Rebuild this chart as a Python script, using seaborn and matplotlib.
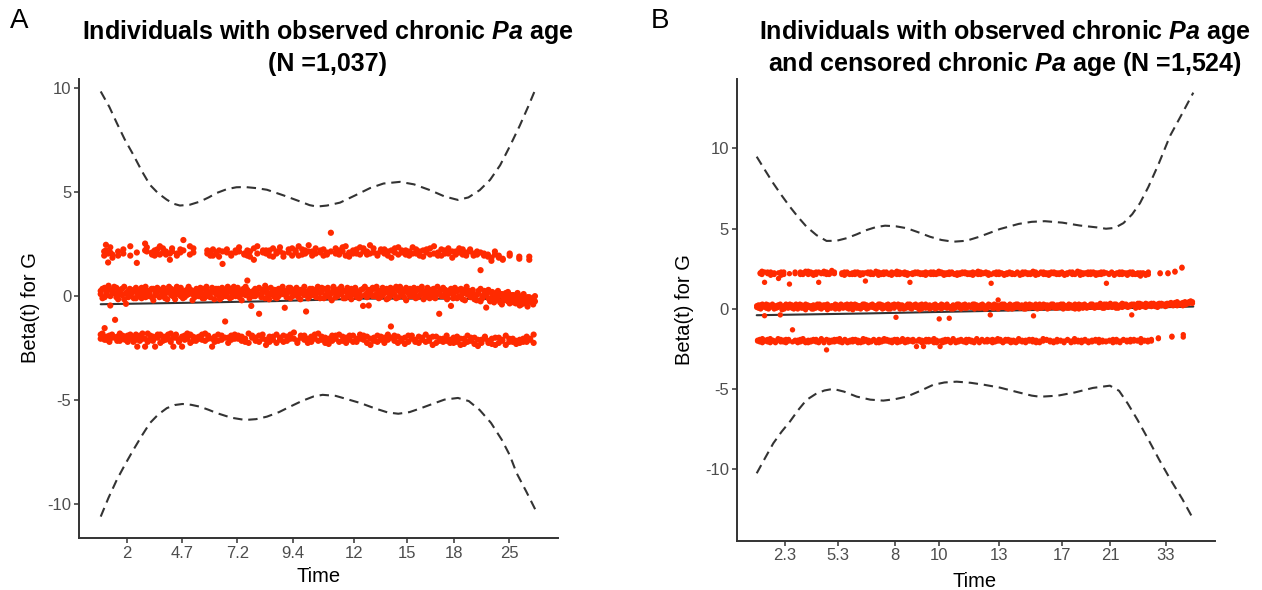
import matplotlib
matplotlib.use("Agg")
import matplotlib.pyplot as plt
import numpy as np
import pandas as pd
import seaborn as sns

sns.set_theme(style="ticks")
plt.rcParams["font.family"] = ["Liberation Sans", "DejaVu Sans"]
plt.rcParams["mathtext.fontset"] = "custom"
plt.rcParams["mathtext.it"] = "Liberation Sans:italic:bold"
plt.rcParams["mathtext.rm"] = "Liberation Sans:bold"
plt.rcParams["mathtext.bf"] = "Liberation Sans:bold"

# ---------------- data (x = transformed time, 0..1000) ----------------
A_TICK_POS = [60.5, 187.6, 314, 441.4, 583, 704, 813, 938.6]
A_TICK_LAB = ["2", "4.7", "7.2", "9.4", "12", "15", "18", "25"]
B_TICK_POS = [64.8, 186.9, 316.8, 418.2, 555, 700, 809.2, 937.5]
B_TICK_LAB = ["2.3", "5.3", "8", "10", "13", "17", "21", "33"]

# Panel A confidence band and fitted beta(t)
A_UP_X = [0, 20, 37, 55, 75, 95, 113, 132, 152, 167, 182, 205, 228, 248, 266, 290, 312, 332, 357,
          382, 420, 459, 480, 497, 520, 550, 585, 619, 650, 688, 720, 757, 790, 821, 845, 871, 895,
          918, 940, 963, 982, 1000]
A_UP_Y = [9.85, 9.1, 8.33, 7.55, 6.8, 6.0, 5.36, 4.95, 4.64, 4.45, 4.36, 4.4, 4.55, 4.75, 4.96, 5.15,
          5.24, 5.25, 5.2, 5.12, 4.85, 4.55, 4.38, 4.31, 4.36, 4.5, 4.85, 5.2, 5.42, 5.5, 5.38, 5.1,
          4.8, 4.63, 4.75, 5.1, 5.6, 6.3, 7.2, 8.2, 9.1, 10.0]
A_LO_X = [0, 18, 37, 56, 75, 95, 113, 132, 152, 170, 188, 208, 228, 248, 267, 300, 332, 357, 382,
          410, 435, 462, 489, 510, 540, 570, 596, 630, 660, 684, 710, 735, 757, 790, 821, 846, 871,
          897, 922, 940, 956, 978, 1000]
A_LO_Y = [-10.61, -9.7, -8.84, -8.1, -7.4, -6.7, -6.11, -5.7, -5.39, -5.24, -5.19, -5.23, -5.32,
          -5.47, -5.63, -5.85, -5.96, -5.92, -5.8, -5.58, -5.32, -5.05, -4.83, -4.75, -4.8, -4.98,
          -5.14, -5.4, -5.6, -5.66, -5.58, -5.4, -5.23, -4.98, -4.9, -5.05, -5.48, -6.1, -6.92,
          -7.65, -8.52, -9.4, -10.32]
A_FIT_X = [0, 200, 400, 600, 800, 1000]
A_FIT_Y = [-0.39, -0.32, -0.24, -0.12, -0.12, -0.16]

B_UP_X = [0, 19, 38, 57, 76, 95, 114, 137, 160, 183, 206, 229, 252, 273, 294, 319, 344, 370, 397,
          423, 450, 480, 510, 557, 600, 630, 660, 700, 740, 780, 800, 820, 840, 860, 878, 897, 920,
          947, 975, 1000]
B_UP_Y = [9.49, 8.65, 7.83, 7.08, 6.37, 5.72, 5.13, 4.6, 4.24, 4.25, 4.41, 4.65, 4.92, 5.1, 5.19,
          5.15, 5.03, 4.78, 4.5, 4.3, 4.19, 4.25, 4.5, 4.98, 5.3, 5.43, 5.47, 5.38, 5.2, 5.08, 5.0,
          5.05, 5.35, 5.9, 6.6, 7.6, 9.0, 10.8, 12.2, 13.48]
B_LO_X = [0, 19, 38, 57, 76, 95, 114, 135, 155, 175, 200, 229, 260, 290, 317, 344, 375, 404, 430,
          458, 490, 520, 557, 600, 630, 649, 690, 729, 770, 809, 830, 850, 872, 897, 922, 947, 975,
          1000]
B_LO_Y = [-10.24, -9.3, -8.37, -7.65, -7.02, -6.3, -5.67, -5.3, -5.08, -4.98, -5.15, -5.46, -5.65,
          -5.71, -5.62, -5.46, -5.1, -4.73, -4.58, -4.53, -4.6, -4.72, -4.9, -5.2, -5.4, -5.47,
          -5.4, -5.2, -4.92, -4.78, -5.1, -5.9, -6.9, -8.13, -9.4, -10.6, -11.85, -13.1]
B_FIT_X = [0, 250, 500, 750, 1000]
B_FIT_Y = [-0.39, -0.28, -0.14, 0.0, 0.15]

# Panel A residuals
A_TOP_X = [8, 12, 17, 22, 27, 40, 52, 68, 83, 102,
           106, 118, 124, 130, 136, 143, 150, 159, 164, 175,
           183, 190, 205, 213, 245, 252, 258, 266, 272, 280,
           290, 300, 310, 318, 330, 337, 343, 352, 360, 373,
           380, 388, 396, 404, 412, 420, 432, 440, 448, 455,
           463, 470, 478, 486, 494, 505, 512, 520, 529, 540,
           548, 556, 563, 571, 580, 588, 596, 604, 612, 619,
           627, 636, 644, 652, 660, 668, 676, 684, 692, 701,
           709, 717, 725, 733, 741, 749, 757, 766, 775, 783,
           791, 799, 808, 816, 824, 832, 840, 849, 857, 865,
           873, 881, 890, 898, 906, 915, 924, 940, 962, 985]
A_TOP_Y = [2.15, 2.47, 1.62, 2.10, 2.00, 1.95, 2.05, 2.40, 1.60, 2.53,
           2.15, 2.00, 2.20, 2.05, 2.40, 2.10, 2.00, 1.75, 2.15, 2.05,
           2.25, 2.70, 2.40, 2.10, 2.05, 2.15, 1.95, 2.10, 2.20, 1.55,
           2.10, 2.05, 2.20, 2.15, 2.00, 1.95, 2.15, 1.75, 2.40, 2.10,
           2.05, 2.20, 1.90, 2.15, 2.35, 2.05, 2.25, 1.95, 2.10, 2.40,
           2.00, 2.20, 2.45, 2.15, 2.05, 2.20, 1.95, 2.10, 3.05, 2.30,
           2.00, 2.15, 2.40, 1.90, 2.20, 2.05, 2.35, 2.15, 2.00, 2.45,
           2.10, 1.95, 2.25, 2.05, 2.15, 1.85, 2.30, 2.00, 2.10, 2.20,
           1.95, 2.35, 2.05, 2.15, 1.90, 2.25, 2.00, 2.40, 2.10, 1.95,
           2.20, 2.05, 1.85, 2.15, 2.30, 2.00, 2.10, 2.25, 1.95, 2.15,
           1.25, 2.05, 1.90, 1.70, 2.00, 1.85, 1.75, 1.95, 1.80, 1.90]
A_TOP_Y2 = [1.95, 2.20, 2.05, 2.35, 1.85, 2.15, 2.25, 1.95, 2.10, 2.20,
            2.35, 2.10, 1.95, 2.25, 2.00, 2.30, 2.15, 2.05, 2.30, 1.95,
            2.10, 2.20, 2.00, 2.30, 2.20, 1.95, 2.25, 2.05, 1.90, 2.15,
            2.25, 1.95, 2.10, 2.35, 2.05, 2.20, 1.90, 2.30, 2.05, 2.20,
            2.20, 1.95, 2.30, 2.05, 2.15, 1.90, 2.10, 2.30, 2.20, 1.95,
            2.25, 2.05, 2.15, 1.95, 2.30, 2.10, 2.25, 2.00, 2.15, 2.05,
            2.20, 2.35, 1.95, 2.10, 2.05, 2.25, 2.00, 2.30, 2.15, 2.05,
            2.30, 2.05, 2.15, 2.25, 1.95, 2.20, 2.10, 2.35, 2.20, 2.00,
            2.15, 2.05, 2.25, 1.95, 2.20, 2.10, 2.30, 2.05, 1.95, 2.25,
            2.05, 2.30, 2.15, 2.00, 2.10, 2.25, 1.95, 2.15, 2.05, 2.00,
            2.10, 1.95, 2.00, 1.85, 2.15, 1.95, 1.80, 2.05, 1.90, 1.75]

MID_X = [0, 4, 9, 13, 18, 22, 27, 31, 36, 40,
         45, 49, 54, 58, 63, 67, 72, 76, 81, 85,
         90, 94, 99, 103, 108, 112, 117, 121, 126, 130,
         135, 139, 144, 148, 153, 157, 162, 166, 171, 175,
         180, 184, 189, 193, 198, 202, 207, 211, 216, 220,
         225, 229, 234, 238, 243, 247, 252, 256, 261, 265,
         270, 274, 279, 283, 288, 292, 297, 301, 306, 310,
         315, 319, 324, 328, 333, 337, 342, 346, 351, 355,
         360, 364, 369, 373, 378, 382, 387, 391, 396, 400,
         405, 409, 414, 418, 423, 427, 432, 436, 441, 445,
         450, 454, 459, 463, 468, 472, 477, 481, 486, 490,
         495, 499, 504, 508, 513, 517, 522, 526, 531, 535,
         540, 544, 549, 553, 558, 562, 567, 571, 576, 580,
         585, 589, 594, 598, 603, 607, 612, 616, 621, 625,
         630, 634, 639, 643, 648, 652, 657, 661, 666, 670,
         675, 679, 684, 688, 693, 697, 702, 706, 711, 715,
         720, 724, 729, 733, 738, 742, 747, 751, 756, 760,
         765, 769, 774, 778, 783, 787, 792, 796, 801, 805,
         810, 814, 819, 823, 828, 832, 837, 841, 846, 850,
         855, 859, 864, 868, 873, 877, 882, 886, 891, 895,
         900, 904, 909, 913, 918, 922, 927, 931, 936, 940,
         945, 949, 954, 958, 963, 967, 972, 976, 981, 985,
         990, 994, 998]
A_MID_Y = [0.25, -0.10, 0.40, 0.05, 0.30, -0.45, 0.15, 0.45, -0.05, 0.20,
           0.10, 0.35, -0.15, -0.37, 0.25, 0.00, 0.15, 0.30, -0.10, 0.20,
           0.05, 0.40, 0.15, -0.05, 0.25, 0.10, 0.35, -0.20, 0.05, 0.20,
           0.30, 0.00, 0.15, -0.10, 0.25, 0.45, 0.05, 0.20, -0.15, 0.10,
           0.35, 0.00, 0.20, -0.05, 0.30, 0.10, 0.15, -0.20, 0.25, 0.05,
           0.20, 0.40, -0.10, 0.10, 0.30, 0.00, 0.15, 0.25, -0.15, 0.35,
           0.05, 0.20, -0.05, 0.30, 0.10, 0.45, -0.10, 0.15, 0.25, 0.00,
           0.20, 0.10, -0.20, 0.35, 0.05, 0.75, 0.15, -0.47, 0.25, 0.00,
           0.30, -0.85, 0.10, 0.20, -0.10, 0.35, 0.05, 0.15, 0.25, -0.05,
           0.20, 0.00, 0.30, 0.10, -0.56, 0.15, 0.40, -0.10, 0.20, 0.05,
           0.25, 0.10, -0.15, 0.30, 0.05, -0.74, 0.20, 0.00, 0.35, 0.10,
           -0.05, 0.20, 0.15, 0.40, -0.10, 0.05, 0.25, 0.10, -0.20, 0.30,
           0.15, 0.00, 0.35, 0.10, -0.10, 0.25, 0.05, 0.20, -0.15, 0.30,
           0.10, -0.05, 0.20, 0.30, -0.47, 0.05, 0.15, -0.45, 0.25, 0.00,
           0.35, 0.10, -0.10, 0.20, 0.05, 0.30, -0.15, 0.15, 0.00, 0.25,
           0.10, 0.45, -0.05, 0.20, 0.05, 0.30, -0.20, 0.15, 0.00, 0.25,
           0.10, -0.10, 0.35, 0.05, 0.20, -0.15, 0.25, 0.00, 0.15, 0.30,
           -0.05, 0.20, 0.10, -0.85, 0.30, 0.00, 0.15, -0.15, 0.25, -0.47,
           0.05, 0.20, -0.10, 0.30, 0.00, 0.15, -0.20, 0.10, 0.25, -0.05,
           0.15, -0.15, 0.05, 0.25, -0.25, 0.00, 0.10, -0.55, -0.10, 0.20,
           -0.05, -0.30, 0.10, -0.15, 0.05, -0.40, -0.10, 0.15, -0.25, -0.05,
           -0.20, 0.05, -0.35, -0.10, -0.45, 0.00, -0.25, -0.15, -0.50, -0.05,
           -0.30, -0.10, -0.25]
A_MID_Y2 = [0.10, 0.35, -0.05, 0.20, 0.50, 0.00, 0.30, 0.15, 0.40, -0.15,
            0.30, 0.05, 0.45, 0.15, -0.05, 0.35, 0.20, -0.10, 0.40, 0.10,
            0.25, -0.10, 0.30, 0.45, 0.00, 0.20, -0.05, 0.35, 0.15, 0.40,
            -0.05, 0.25, 0.40, 0.10, -0.15, 0.20, 0.35, 0.00, 0.30, 0.45,
            0.15, 0.40, -0.10, 0.25, 0.05, 0.45, 0.30, 0.10, -0.05, 0.35,
            0.00, 0.15, 0.35, -0.10, 0.45, 0.20, -0.05, 0.40, 0.30, 0.10,
            0.35, -0.15, 0.40, 0.15, 0.00, 0.25, 0.35, -0.05, 0.45, 0.20,
            0.40, -0.05, 0.25, 0.10, 0.45, 0.30, -0.10, 0.20, 0.00, 0.35,
            0.10, 0.40, -0.05, 0.30, 0.50, 0.15, -0.15, 0.40, 0.05, 0.30,
            -0.10, 0.35, 0.15, 0.45, 0.25, -0.05, 0.20, 0.40, 0.00, 0.30,
            0.40, -0.05, 0.30, 0.15, 0.45, 0.20, -0.10, 0.35, 0.05, 0.25,
            0.30, 0.45, -0.10, 0.20, 0.35, 0.00, 0.40, -0.05, 0.15, 0.45,
            -0.05, 0.30, 0.15, 0.45, 0.25, -0.10, 0.40, 0.00, 0.35, 0.10,
            0.40, 0.20, -0.10, 0.00, 0.35, 0.45, -0.05, 0.30, 0.10, 0.40,
            0.00, 0.45, 0.25, -0.05, 0.40, 0.15, 0.35, -0.10, 0.40, 0.20,
            0.35, -0.10, 0.30, 0.45, 0.15, -0.05, 0.40, 0.25, 0.35, 0.00,
            0.40, 0.25, -0.05, 0.30, 0.45, 0.10, 0.00, 0.40, -0.10, 0.15,
            0.35, -0.10, 0.45, 0.20, 0.00, 0.40, 0.30, -0.05, 0.15, 0.35,
            -0.10, 0.40, 0.25, 0.00, 0.35, -0.15, 0.30, 0.45, 0.05, 0.20,
            0.30, 0.00, -0.20, 0.15, 0.35, -0.10, 0.25, 0.05, 0.30, -0.25,
            0.20, -0.15, 0.00, 0.25, -0.30, 0.10, -0.20, -0.05, 0.20, -0.35,
            0.05, -0.30, -0.10, 0.15, -0.20, -0.40, 0.10, -0.35, -0.05, -0.25,
            -0.15, -0.40, 0.00]

A_BOT_X = [0, 4, 9, 14, 20, 26, 33, 38, 44, 50,
           56, 62, 68, 75, 81, 84, 90, 96, 102, 108,
           114, 120, 125, 131, 137, 143, 149, 155, 161, 167,
           173, 180, 187, 193, 199, 206, 212, 219, 226, 233,
           240, 247, 256, 262, 270, 278, 286, 293, 300, 308,
           316, 324, 332, 340, 348, 356, 364, 372, 380, 388,
           396, 404, 412, 420, 428, 436, 444, 452, 460, 468,
           476, 484, 492, 500, 508, 516, 524, 532, 540, 548,
           556, 564, 572, 580, 588, 596, 604, 612, 620, 628,
           636, 644, 652, 660, 667, 675, 683, 691, 699, 707,
           715, 723, 731, 739, 747, 755, 763, 771, 779, 787,
           795, 803, 811, 819, 827, 835, 843, 851, 859, 867,
           875, 883, 891, 899, 907, 915, 923, 931, 939, 947,
           955, 963, 971, 979, 987, 995]
A_BOT_Y = [-1.85, -1.95, -1.54, -2.10, -1.90, -2.00, -1.14, -2.15, -1.80, -2.05,
           -1.95, -2.20, -1.85, -2.00, -2.10, -2.43, -1.90, -2.05, -2.43, -1.80,
           -2.10, -1.95, -2.43, -2.00, -1.85, -2.15, -1.95, -2.05, -1.80, -2.43,
           -2.00, -2.10, -2.43, -1.90, -2.05, -1.85, -2.15, -2.00, -1.95, -2.10,
           -1.80, -2.05, -2.43, -1.95, -2.15, -1.90, -1.22, -2.00, -2.10, -1.85,
           -2.05, -1.95, -2.20, -1.80, -2.00, -2.15, -1.90, -2.05, -2.35, -1.95,
           -2.10, -1.85, -2.00, -2.20, -1.95, -2.05, -1.75, -2.15, -2.00, -1.90,
           -2.25, -1.95, -2.05, -1.80, -2.10, -2.00, -2.30, -1.90, -2.05, -1.85,
           -2.15, -2.00, -1.90, -2.20, -2.05, -1.85, -2.10, -1.95, -2.35, -2.00,
           -1.90, -2.10, -2.00, -1.85, -1.46, -2.15, -1.95, -2.05, -2.30, -1.90,
           -2.05, -2.20, -1.95, -2.10, -1.85, -2.00, -2.35, -1.95, -2.15, -2.05,
           -1.90, -2.10, -2.25, -1.95, -2.05, -2.30, -1.90, -2.15, -2.00, -2.40,
           -2.10, -1.95, -2.25, -2.05, -2.35, -2.00, -2.15, -1.90, -2.20, -2.05,
           -2.30, -2.10, -2.20, -1.95, -2.05, -1.85]
A_BOT_Y2 = [-2.05, -1.80, -2.10, -1.95, -2.20, -1.85, -2.00, -1.95, -2.15, -1.90,
            -2.10, -1.90, -2.05, -2.20, -1.85, -2.00, -2.15, -1.80, -2.05, -2.20,
            -1.90, -2.15, -2.00, -1.85, -2.25, -1.95, -2.10, -1.85, -2.20, -2.00,
            -1.85, -2.20, -1.95, -2.10, -1.80, -2.25, -1.95, -2.15, -2.05, -1.85,
            -2.15, -1.90, -2.05, -2.20, -1.85, -2.10, -2.00, -2.25, -1.90, -2.05,
            -1.90, -2.15, -2.05, -2.25, -1.90, -2.00, -2.20, -1.85, -2.10, -2.20,
            -1.95, -2.25, -2.10, -1.90, -2.15, -1.85, -2.05, -2.25, -1.90, -2.10,
            -2.05, -2.20, -1.85, -2.15, -1.95, -2.25, -2.05, -2.15, -1.90, -2.20,
            -1.95, -2.25, -2.10, -1.90, -2.20, -2.05, -1.90, -2.25, -2.05, -2.15,
            -2.20, -1.95, -2.25, -2.10, -2.00, -1.90, -2.25, -2.15, -2.00, -2.20,
            -1.90, -2.10, -2.25, -2.00, -2.20, -2.15, -1.95, -2.25, -2.05, -2.20,
            -2.15, -2.25, -2.00, -2.20, -2.35, -2.05, -2.20, -2.00, -2.30, -2.10,
            -2.25, -2.05, -2.15, -2.30, -2.00, -2.25, -2.10, -2.35, -2.05, -2.20,
            -2.15, -2.25, -2.05, -2.20, -2.10, -2.25]

# Panel B residuals
B_TOP_X = [8, 12, 18, 25, 32, 40, 50, 56, 62, 75,
           88, 100, 106, 112, 118, 124, 130, 136, 142, 148,
           154, 160, 166, 172, 178, 195, 201, 207, 213, 219,
           225, 231, 237, 243, 249, 255, 261, 267, 273, 279,
           285, 291, 297, 303, 309, 315, 321, 327, 333, 339,
           345, 351, 357, 363, 369, 375, 381, 387, 393, 399,
           405, 411, 417, 423, 429, 435, 441, 447, 453, 459,
           465, 471, 477, 483, 489, 495, 501, 507, 513, 519,
           525, 531, 537, 543, 549, 555, 561, 567, 573, 579,
           585, 591, 597, 603, 609, 615, 621, 627, 633, 639,
           645, 651, 657, 663, 669, 675, 681, 687, 693, 699,
           705, 711, 717, 723, 729, 735, 741, 747, 753, 759,
           765, 771, 777, 783, 789, 795, 801, 807, 813, 819,
           825, 831, 837, 843, 849, 855, 861, 867, 873, 879,
           885, 891, 897, 924, 942, 958, 974]
B_TOP_Y = [2.20, 2.35, 1.66, 2.30, 2.10, 2.25, 1.90, 2.30, 2.15, 1.55,
           2.20, 2.30, 2.15, 2.25, 2.35, 2.20, 2.10, 2.30, 1.66, 2.25,
           2.35, 2.15, 2.25, 2.40, 2.20, 2.25, 2.10, 2.30, 2.20, 2.15,
           2.30, 2.20, 2.10, 2.25, 1.74, 2.30, 2.15, 2.20, 2.35, 2.10,
           2.25, 2.15, 2.30, 2.20, 2.10, 2.25, 2.35, 2.15, 2.20, 2.30,
           2.10, 1.66, 2.25, 2.20, 2.30, 2.15, 2.25, 2.10, 2.20, 2.30,
           2.15, 2.25, 2.35, 2.20, 2.10, 2.25, 2.15, 2.30, 2.20, 2.10,
           2.25, 2.20, 2.30, 2.15, 2.25, 2.10, 2.20, 2.35, 2.15, 2.25,
           2.20, 2.10, 1.60, 2.25, 2.30, 2.15, 2.20, 2.10, 2.25, 2.30,
           2.15, 2.20, 2.25, 2.10, 2.30, 2.20, 2.15, 2.25, 2.35, 2.10,
           2.20, 2.30, 2.15, 2.25, 2.10, 2.20, 2.30, 2.15, 2.25, 2.20,
           2.10, 2.25, 2.30, 2.15, 2.20, 2.35, 2.10, 2.25, 2.20, 2.15,
           2.30, 2.20, 2.10, 2.25, 2.15, 2.30, 1.60, 2.20, 2.25, 2.10,
           2.20, 2.30, 2.15, 2.25, 2.10, 2.20, 2.30, 2.15, 2.25, 2.05,
           2.20, 2.10, 2.15, 2.20, 2.25, 2.30, 2.60]
B_TOP_Y2 = [2.25, 2.15, 2.30, 2.20, 2.30, 2.15, 2.25, 2.10, 2.30, 2.20,
            2.30, 2.15, 2.25, 2.35, 2.15, 2.30, 2.25, 2.15, 2.30, 2.20,
            2.20, 2.30, 2.15, 2.25, 2.30, 2.15, 2.30, 2.20, 2.15, 2.25,
            2.15, 2.30, 2.25, 2.15, 2.25, 2.20, 2.30, 2.15, 2.25, 2.30,
            2.15, 2.30, 2.20, 2.15, 2.30, 2.20, 2.15, 2.30, 2.25, 2.15,
            2.25, 2.20, 2.15, 2.30, 2.20, 2.25, 2.15, 2.30, 2.25, 2.15,
            2.30, 2.15, 2.20, 2.30, 2.25, 2.15, 2.30, 2.20, 2.15, 2.25,
            2.15, 2.30, 2.20, 2.25, 2.15, 2.30, 2.25, 2.15, 2.30, 2.20,
            2.30, 2.25, 2.15, 2.20, 2.15, 2.30, 2.25, 2.20, 2.15, 2.20,
            2.25, 2.15, 2.30, 2.20, 2.15, 2.30, 2.25, 2.15, 2.20, 2.30,
            2.15, 2.25, 2.30, 2.15, 2.25, 2.30, 2.20, 2.25, 2.15, 2.30,
            2.20, 2.15, 2.25, 2.30, 2.15, 2.25, 2.30, 2.15, 2.25, 2.30,
            2.15, 2.30, 2.25, 2.15, 2.30, 2.20, 2.25, 2.15, 2.30, 2.20,
            2.25, 2.15, 2.30, 2.20, 2.25, 2.30, 2.15, 2.20, 2.15, 2.25,
            2.25, 2.20, 2.30, 2.25, 2.20, 2.35, 2.55]
B_MID_Y = [0.20, 0.05, 0.25, 0.10, -0.42, 0.30, 0.00, 0.15, 0.25, 0.20,
           0.05, 0.25, -0.37, -0.05, 0.20, 0.30, 0.05, 0.15, 0.25, 0.00,
           0.10, 0.20, 0.30, 0.05, 0.15, -0.05, 0.25, 0.10, 0.20, 0.00,
           0.15, 0.30, 0.05, 0.20, 0.10, 0.25, -0.05, 0.15, 0.05, 0.20,
           0.30, 0.10, 0.00, 0.20, 0.15, 0.25, 0.05, 0.10, 0.30, -0.05,
           0.15, 0.25, 0.05, 0.20, 0.10, 0.30, 0.00, 0.15, 0.25, 0.10,
           0.05, 0.20, 0.30, 0.10, 0.00, 0.15, 0.25, 0.00, 0.20, 0.10,
           0.30, -0.52, 0.15, 0.25, 0.10, 0.00, 0.20, 0.30, 0.05, 0.15,
           0.25, 0.10, 0.20, -0.05, 0.30, 0.15, 0.05, 0.20, 0.00, 0.10,
           0.25, 0.00, 0.20, -0.62, 0.30, 0.10, 0.20, 0.05, -0.58, 0.15,
           0.00, 0.20, 0.30, 0.10, 0.15, 0.25, 0.05, 0.15, 0.20, 0.10,
           0.10, 0.30, 0.15, 0.05, 0.25, 0.20, 0.00, 0.15, 0.30, -0.37,
           0.20, 0.05, 0.25, 0.56, 0.10, 0.30, 0.10, 0.20, 0.00, 0.25,
           0.15, 0.05, 0.30, 0.20, 0.10, 0.25, 0.15, 0.00, 0.20, 0.30,
           0.10, -0.43, 0.05, 0.15, 0.30, 0.20, 0.10, 0.25, 0.00, 0.15,
           0.30, 0.10, 0.20, 0.05, 0.25, 0.15, 0.30, 0.10, 0.20, 0.05,
           0.25, 0.15, 0.00, 0.20, 0.30, 0.10, 0.25, 0.15, 0.05, 0.20,
           0.30, 0.10, 0.15, 0.20, 0.25, 0.15, 0.05, 0.30, 0.20, 0.10,
           0.25, 0.15, 0.30, 0.05, 0.20, 0.25, 0.10, 0.30, 0.15, 0.20,
           0.25, -0.37, 0.30, 0.20, 0.15, 0.35, 0.20, 0.25, 0.10, 0.30,
           0.20, 0.35, 0.25, 0.15, 0.30, 0.20, 0.35, 0.25, 0.30, 0.20,
           0.35, 0.25, 0.30, 0.40, 0.20, 0.35, 0.30, 0.40, 0.25, 0.35,
           0.45, 0.40, 0.45]
B_MID_Y2 = [0.10, 0.25, 0.00, 0.30, 0.15, 0.05, 0.25, 0.10, 0.30, 0.00,
            0.20, 0.10, 0.30, 0.15, 0.00, 0.25, 0.10, 0.30, 0.05, 0.20,
            0.30, 0.00, 0.15, 0.25, 0.05, 0.30, 0.10, 0.20, 0.00, 0.25,
            0.05, 0.20, 0.30, 0.00, 0.25, 0.10, 0.30, 0.05, 0.20, 0.15,
            0.00, 0.25, 0.15, 0.30, 0.05, 0.20, 0.30, 0.00, 0.15, 0.25,
            0.30, 0.05, 0.20, 0.00, 0.30, 0.10, 0.25, 0.05, 0.15, 0.30,
            0.20, 0.00, 0.15, 0.30, 0.25, 0.05, 0.10, 0.30, 0.00, 0.25,
            0.05, 0.20, 0.30, 0.00, 0.25, 0.15, 0.05, 0.20, 0.30, 0.00,
            0.15, 0.30, 0.05, 0.25, 0.00, 0.20, 0.30, 0.10, 0.25, 0.05,
            0.10, 0.30, 0.05, 0.20, 0.00, 0.25, 0.10, 0.30, 0.15, 0.00,
            0.25, 0.05, 0.15, 0.30, 0.00, 0.20, 0.30, 0.05, 0.25, 0.15,
            0.30, 0.00, 0.25, 0.15, 0.05, 0.30, 0.20, 0.00, 0.10, 0.25,
            0.05, 0.30, 0.15, 0.00, 0.25, 0.10, 0.30, 0.05, 0.20, 0.30,
            0.00, 0.25, 0.10, 0.30, 0.05, 0.20, 0.00, 0.30, 0.15, 0.05,
            0.25, 0.10, 0.30, 0.00, 0.20, 0.05, 0.30, 0.15, 0.25, 0.05,
            0.15, 0.30, 0.05, 0.25, 0.10, 0.30, 0.00, 0.20, 0.05, 0.30,
            0.10, 0.05, 0.30, 0.15, 0.00, 0.25, 0.05, 0.30, 0.20, 0.10,
            0.15, 0.30, 0.05, 0.25, 0.10, 0.35, 0.20, 0.05, 0.30, 0.15,
            0.35, 0.10, 0.20, 0.30, 0.05, 0.15, 0.35, 0.20, 0.30, 0.10,
            0.15, 0.30, 0.20, 0.05, 0.35, 0.10, 0.30, 0.15, 0.35, 0.20,
            0.30, 0.15, 0.35, 0.25, 0.10, 0.35, 0.20, 0.30, 0.15, 0.35,
            0.25, 0.40, 0.20, 0.30, 0.45, 0.25, 0.35, 0.20, 0.45, 0.30,
            0.35, 0.50, 0.35]
B_BOT_X = [2, 7, 13, 19, 25, 31, 37, 43, 49, 55,
           61, 67, 73, 82, 88, 94, 100, 106, 112, 118,
           124, 130, 136, 142, 148, 154, 160, 166, 172, 178,
           184, 190, 196, 202, 208, 214, 220, 226, 232, 238,
           244, 250, 256, 262, 268, 274, 280, 286, 292, 298,
           304, 310, 316, 322, 328, 334, 340, 346, 352, 358,
           366, 372, 378, 382, 388, 394, 400, 406, 412, 420,
           426, 432, 438, 444, 450, 456, 462, 468, 474, 480,
           486, 492, 498, 504, 510, 516, 522, 528, 534, 540,
           546, 552, 558, 564, 570, 576, 582, 588, 594, 600,
           608, 616, 624, 632, 640, 648, 656, 664, 672, 680,
           688, 696, 704, 712, 720, 728, 736, 744, 752, 760,
           768, 776, 784, 792, 800, 808, 816, 824, 832, 840,
           848, 856, 864, 872, 880, 888, 896, 904, 920, 951,
           977]
B_BOT_Y = [-1.95, -2.05, -1.85, -2.00, -1.90, -2.10, -1.95, -2.00, -1.85, -2.05,
           -1.95, -2.10, -1.90, -1.30, -2.00, -1.95, -2.05, -1.85, -2.00, -2.10,
           -1.95, -1.90, -2.05, -2.00, -1.85, -2.10, -2.55, -1.95, -2.05, -1.90,
           -2.00, -1.85, -2.10, -1.95, -2.00, -2.05, -1.90, -2.00, -1.95, -2.10,
           -1.85, -2.00, -1.95, -2.05, -1.90, -2.00, -2.10, -1.95, -1.85, -2.00,
           -2.05, -1.95, -1.90, -2.10, -2.00, -1.85, -1.95, -2.05, -2.00, -1.90,
           -2.34, -2.00, -1.95, -2.34, -2.05, -1.90, -2.00, -1.85, -2.10, -2.34,
           -1.95, -2.05, -1.90, -2.00, -1.85, -2.10, -1.95, -2.00, -2.05, -1.90,
           -2.00, -1.95, -2.10, -1.85, -2.00, -1.95, -2.05, -1.90, -2.00, -2.10,
           -1.95, -1.85, -2.00, -2.05, -1.90, -2.00, -2.10, -1.95, -2.00, -1.85,
           -2.05, -1.95, -2.00, -1.90, -2.10, -2.00, -1.85, -1.95, -2.05, -2.00,
           -1.90, -2.00, -2.10, -1.95, -2.00, -1.85, -2.05, -1.95, -2.00, -2.10,
           -1.95, -2.00, -1.90, -2.05, -2.00, -1.95, -2.10, -1.90, -2.00, -1.95,
           -2.05, -1.90, -2.00, -1.95, -1.85, -2.00, -1.95, -1.90, -1.80, -1.75,
           -1.60]
B_BOT_Y2 = [-2.00, -1.90, -2.10, -1.95, -2.05, -1.85, -2.00, -2.10, -1.95, -1.90,
            -2.05, -1.90, -2.00, -2.05, -1.95, -2.10, -1.90, -2.00, -2.10, -1.95,
            -2.05, -2.00, -1.90, -2.10, -1.95, -2.00, -1.90, -2.10, -1.95, -2.05,
            -1.90, -2.05, -2.00, -1.90, -2.10, -1.95, -2.05, -1.90, -2.10, -2.00,
            -2.05, -1.90, -2.10, -2.00, -1.95, -2.10, -1.90, -2.05, -2.00, -1.90,
            -1.95, -2.10, -2.00, -1.90, -2.05, -2.00, -2.10, -1.90, -1.95, -2.05,
            -2.00, -1.90, -2.10, -2.00, -1.90, -2.05, -1.95, -2.10, -1.95, -2.00,
            -2.10, -1.90, -2.00, -2.10, -1.95, -2.00, -2.05, -1.90, -2.00, -2.10,
            -1.90, -2.05, -2.00, -1.95, -2.10, -1.90, -2.00, -2.05, -1.95, -1.90,
            -2.05, -2.00, -1.90, -2.10, -2.00, -1.90, -1.95, -2.05, -2.10, -2.00,
            -1.95, -2.10, -1.90, -2.05, -1.95, -2.10, -2.00, -1.90, -1.95, -2.10,
            -2.05, -1.95, -2.00, -1.90, -2.10, -2.05, -1.95, -2.10, -1.90, -2.00,
            -2.05, -1.90, -2.10, -1.95, -2.05, -2.00, -1.90, -2.05, -2.10, -1.90,
            -1.95, -2.05, -1.90, -2.00, -2.10, -1.95, -2.05, -2.00, -1.85, -1.70,
            -1.75]

TITLE_A = [r"Individuals with observed chronic $\mathit{Pa}$ age", "(N =1,037)"]
TITLE_B = [r"Individuals with observed chronic $\mathit{Pa}$ age",
           r"and censored chronic $\mathit{Pa}$ age (N =1,524)"]

RED = "#ff2a00"
DARK = "#333333"
W, H = 1262, 590


def pairs(xs, ys):
    n = min(len(xs), len(ys))
    return list(xs[:n]), list(ys[:n])


def px_rect(l, t, r, b):
    return [l / W, 1 - b / H, (r - l) / W, (b - t) / H]


fig = plt.figure(figsize=(W / 100, H / 100), dpi=100)
axA = fig.add_axes(px_rect(79, 79, 558, 538))
axB = fig.add_axes(px_rect(736.7, 79, 1215, 540.7))


def panel(ax, bands, up, lo, fit, tpos, tlab, xlim, ylim, msize):
    fx, fy = fit
    sns.lineplot(x=fx, y=fy, ax=ax, color=DARK, lw=1.5, estimator=None)
    rows = []
    for xs, ys in bands:
        xs, ys = pairs(xs, ys)
        rows.append(pd.DataFrame({"t": xs, "r": ys}))
    df = pd.concat(rows, ignore_index=True)
    sns.scatterplot(data=df, x="t", y="r", ax=ax, color=RED, s=msize,
                    linewidth=0, edgecolor="none", zorder=3)
    for cx, cy in (up, lo):
        sns.lineplot(x=cx, y=cy, ax=ax, color=DARK, lw=1.5, estimator=None)
        ax.get_lines()[-1].set_linestyle((0, (4.5, 2.8)))
    ax.set_xlim(*xlim)
    ax.set_ylim(*ylim)
    ax.set_xticks(tpos)
    ax.set_xticklabels(tlab)
    ax.set_yticks([-10, -5, 0, 5, 10])
    ax.set_yticklabels(["-10", "-5", "0", "5", "10"])
    ax.set_xlabel("")
    ax.set_ylabel("")
    for s in ("top", "right"):
        ax.spines[s].set_visible(False)
    for s in ("left", "bottom"):
        ax.spines[s].set_color(DARK)
        ax.spines[s].set_linewidth(1.4)
    ax.tick_params(axis="both", direction="out", length=3.6, width=1.1,
                   color=DARK, labelsize=12, labelcolor="#4d4d4d", pad=2)
    ax.set_facecolor("white")


panel(axA,
      [(A_TOP_X, A_TOP_Y), (A_TOP_X, A_TOP_Y2), (MID_X, A_MID_Y), (MID_X, A_MID_Y2),
       (A_BOT_X, A_BOT_Y), (A_BOT_X, A_BOT_Y2)],
      (A_UP_X, A_UP_Y), (A_LO_X, A_LO_Y), (A_FIT_X, A_FIT_Y),
      A_TICK_POS, A_TICK_LAB, (-49.9, 1051), (-11.64, 10.45), 20)
panel(axB,
      [(B_TOP_X, B_TOP_Y), (B_TOP_X, B_TOP_Y2), (MID_X, B_MID_Y), (MID_X, B_MID_Y2),
       (B_BOT_X, B_BOT_Y), (B_BOT_X, B_BOT_Y2)],
      (B_UP_X, B_UP_Y), (B_LO_X, B_LO_Y), (B_FIT_X, B_FIT_Y),
      B_TICK_POS, B_TICK_LAB, (-45.8, 1049.7), (-14.44, 14.33), 15)


def ftext(x, y, s, **kw):
    return fig.text(x / W, 1 - y / H, s, **kw)


for cx, lines in ((328, TITLE_A), (1005, TITLE_B)):
    for yb, line in zip((39, 71), lines):
        ftext(cx, yb, line, ha="center", va="baseline", fontsize=18,
              fontweight="bold", color="black")

ftext(10, 28, "A", ha="left", va="baseline", fontsize=20, color="black")
ftext(651, 28, "B", ha="left", va="baseline", fontsize=20, color="black")

ftext(319, 582, "Time", ha="center", va="baseline", fontsize=14.5, color="black")
ftext(975, 587, "Time", ha="center", va="baseline", fontsize=14.5, color="black")
ftext(30, 308, "Beta(t) for G", ha="center", va="center", rotation=90,
      fontsize=14.5, color="black")
ftext(685, 310, "Beta(t) for G", ha="center", va="center", rotation=90,
      fontsize=14.5, color="black")

fig.savefig("out.png", dpi=100, facecolor="white")
